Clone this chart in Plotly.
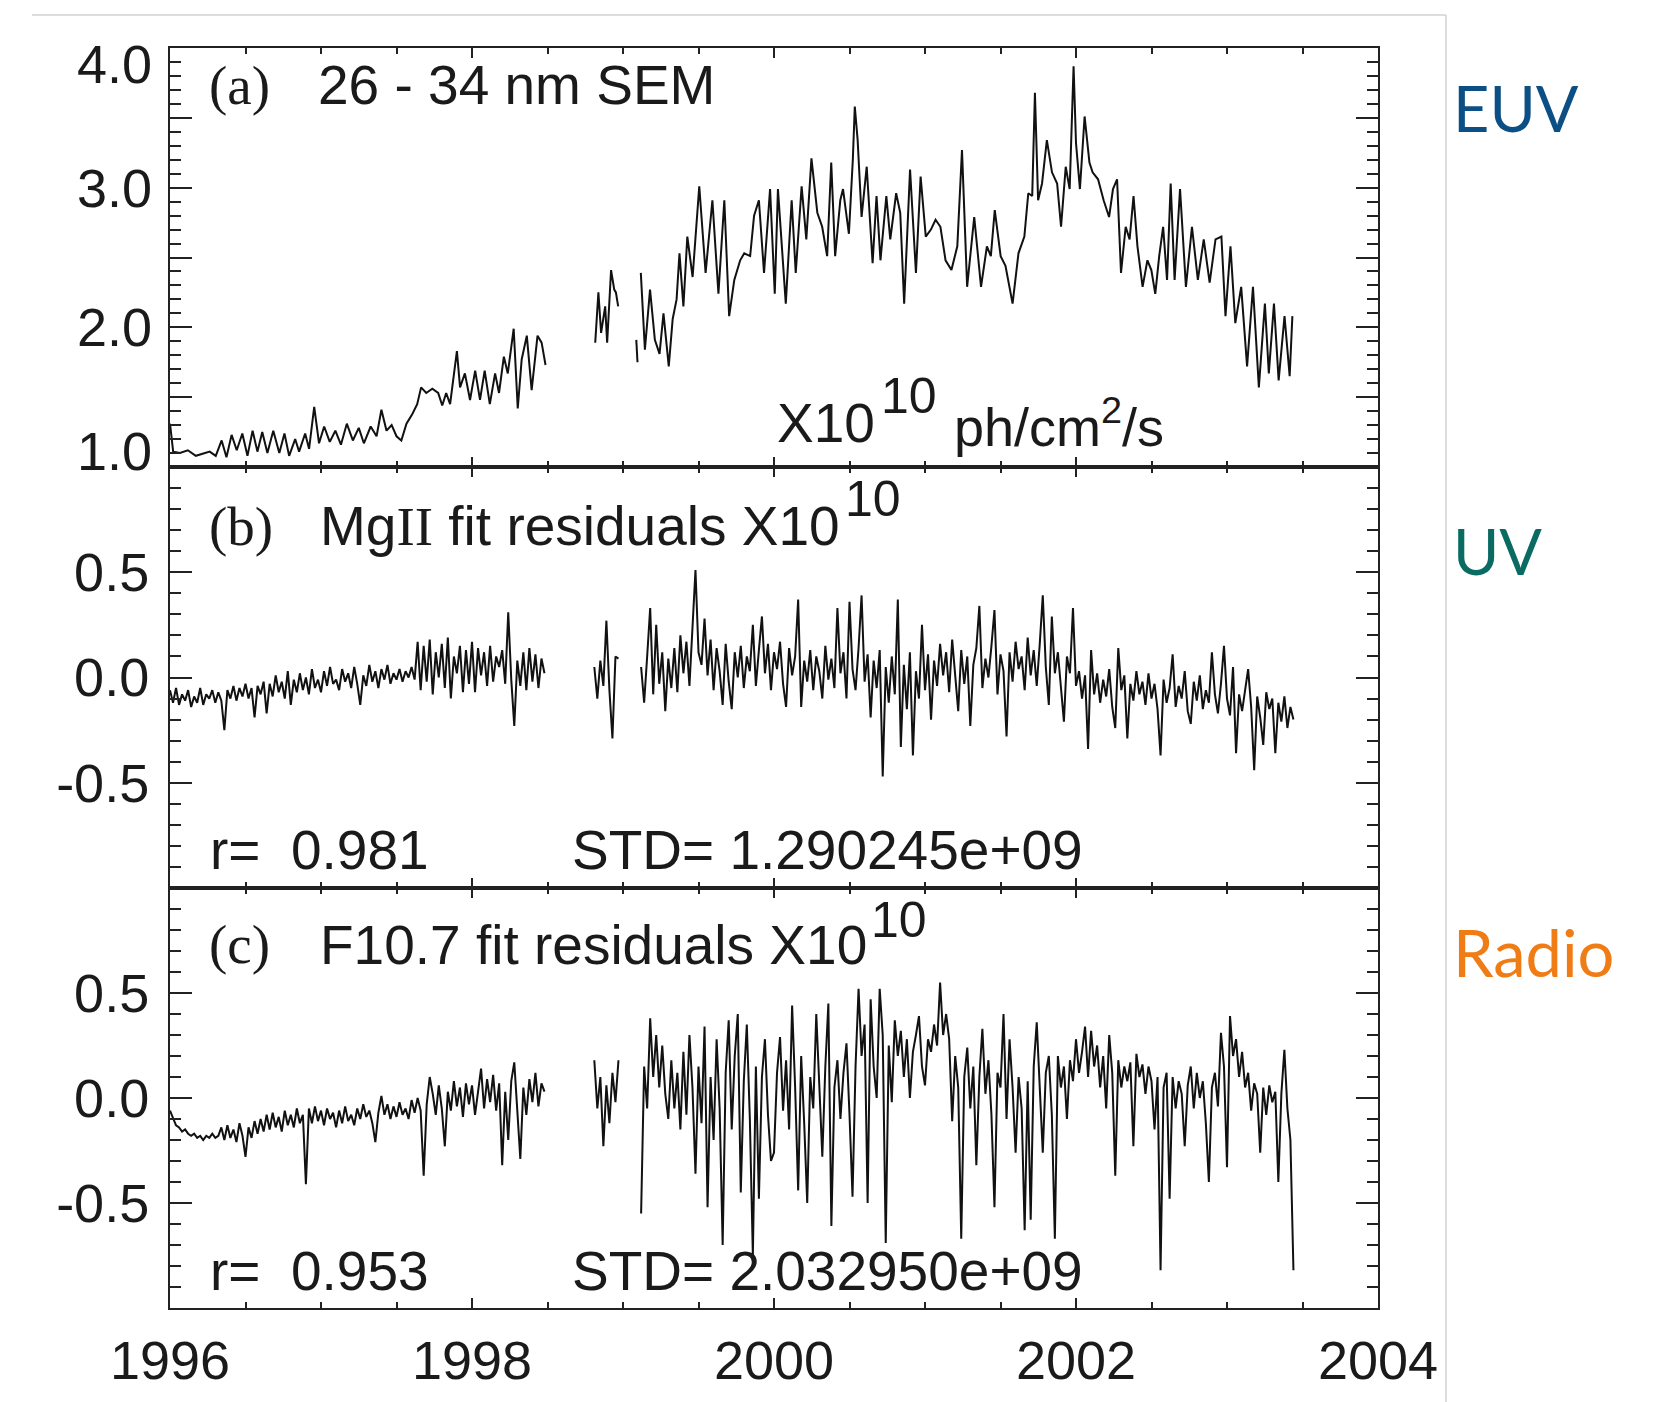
import numpy as np
import plotly.graph_objects as go

W, H = 1665, 1402

# ---------------- data ----------------
# Panel (a): 26-34 nm SEM flux (x1e10 ph/cm^2/s)
a1_year = [1996.000, 1996.021, 1996.066, 1996.118, 1996.171, 1996.224, 1996.263, 1996.303, 1996.342, 1996.374,
           1996.408, 1996.442, 1996.479, 1996.513, 1996.547, 1996.579, 1996.611, 1996.645, 1996.684, 1996.724,
           1996.758, 1996.789, 1996.829, 1996.855, 1996.895, 1996.921, 1996.955, 1996.987,
           1997.021, 1997.058, 1997.095, 1997.132, 1997.171, 1997.211, 1997.250, 1997.284, 1997.329, 1997.368,
           1997.400, 1997.434, 1997.468, 1997.500, 1997.532, 1997.566, 1997.605, 1997.637, 1997.663, 1997.697,
           1997.737, 1997.776, 1997.803, 1997.829, 1997.855, 1997.900, 1997.921, 1997.953, 1997.987,
           1998.021, 1998.053, 1998.084, 1998.118, 1998.153, 1998.179, 1998.211, 1998.237, 1998.276, 1998.303,
           1998.329, 1998.363, 1998.395, 1998.434, 1998.461, 1998.487]
a1_val = [1.31, 1.11, 1.10, 1.12, 1.08, 1.10, 1.11, 1.08, 1.19, 1.07,
          1.23, 1.12, 1.24, 1.08, 1.26, 1.11, 1.25, 1.10, 1.26, 1.10,
          1.24, 1.08, 1.20, 1.11, 1.24, 1.13, 1.43, 1.17,
          1.29, 1.18, 1.26, 1.16, 1.31, 1.19, 1.28, 1.17, 1.29, 1.22,
          1.41, 1.26, 1.30, 1.22, 1.19, 1.31, 1.38, 1.45, 1.57, 1.53,
          1.56, 1.53, 1.44, 1.53, 1.45, 1.83, 1.57, 1.67, 1.48,
          1.69, 1.48, 1.69, 1.45, 1.67, 1.53, 1.79, 1.67, 1.99, 1.42,
          1.77, 1.94, 1.55, 1.94, 1.89, 1.73]
a2_year = [1998.816, 1998.837, 1998.855, 1998.882, 1998.895, 1998.921, 1998.942, 1998.953, 1998.968]
a2_val = [1.89, 2.25, 1.96, 2.15, 1.89, 2.41, 2.27, 2.25, 2.15]
a3_year = [1999.088, 1999.096]
a3_val = [1.91, 1.75]
a4_year = [1999.118, 1999.145, 1999.179, 1999.211, 1999.242, 1999.268, 1999.303, 1999.329, 1999.355, 1999.374,
           1999.400, 1999.426, 1999.461, 1999.505, 1999.547, 1999.592, 1999.632, 1999.671, 1999.703, 1999.737,
           1999.776, 1999.803, 1999.842, 1999.868, 1999.900, 1999.934, 1999.974, 2000.005,
           2000.026, 2000.078, 2000.117, 2000.144, 2000.183, 2000.214, 2000.248, 2000.287, 2000.319, 2000.352,
           2000.379, 2000.405, 2000.439, 2000.457, 2000.496, 2000.522, 2000.535, 2000.554, 2000.580, 2000.614,
           2000.653, 2000.679, 2000.705, 2000.744, 2000.770, 2000.809, 2000.836, 2000.862, 2000.901, 2000.940,
           2000.971, 2001.005, 2001.039, 2001.070, 2001.102, 2001.136, 2001.175, 2001.214, 2001.245, 2001.279,
           2001.326, 2001.371, 2001.410, 2001.436, 2001.462, 2001.501, 2001.533, 2001.580, 2001.619, 2001.658,
           2001.684, 2001.710, 2001.728, 2001.749, 2001.775, 2001.807, 2001.841, 2001.875, 2001.901, 2001.932,
           2001.958, 2001.984, 2002.000, 2002.026, 2002.057, 2002.089, 2002.110, 2002.146, 2002.183, 2002.219,
           2002.245, 2002.272, 2002.298, 2002.329, 2002.355, 2002.381, 2002.407, 2002.441, 2002.473, 2002.499,
           2002.525, 2002.551, 2002.577, 2002.603, 2002.627, 2002.653, 2002.689, 2002.728, 2002.768, 2002.807,
           2002.846, 2002.885, 2002.924, 2002.963, 2002.990, 2003.023, 2003.055, 2003.094, 2003.133, 2003.172,
           2003.211, 2003.251, 2003.277, 2003.311, 2003.342, 2003.381, 2003.415, 2003.433]
a4_val = [2.39, 1.84, 2.27, 1.91, 1.81, 2.10, 1.72, 2.06, 2.20, 2.53,
          2.15, 2.65, 2.36, 3.01, 2.39, 2.91, 2.24, 2.91, 2.08, 2.34,
          2.48, 2.53, 2.51, 2.80, 2.91, 2.39, 2.99, 2.24,
          2.99, 2.17, 2.91, 2.39, 3.01, 2.63, 3.21, 2.82, 2.72, 2.51,
          3.18, 2.51, 2.91, 2.99, 2.67, 3.20, 3.58, 3.34, 2.79, 3.15,
          2.46, 2.94, 2.48, 2.94, 2.63, 2.96, 2.82, 2.17, 3.13, 2.39,
          3.08, 2.65, 2.70, 2.77, 2.72, 2.48, 2.41, 2.58, 3.27, 2.29,
          2.79, 2.29, 2.58, 2.51, 2.84, 2.51, 2.44, 2.17, 2.53, 2.65,
          2.96, 2.94, 3.68, 2.91, 3.03, 3.34, 3.11, 3.03, 2.72, 3.15,
          2.99, 3.87, 3.32, 2.99, 3.51, 3.18, 3.11, 3.06, 2.91, 2.79,
          2.99, 3.06, 2.39, 2.72, 2.63, 2.94, 2.58, 2.29, 2.48, 2.41,
          2.24, 2.51, 2.72, 2.34, 3.03, 2.34, 2.99, 2.29, 2.72, 2.34,
          2.63, 2.32, 2.63, 2.65, 2.08, 2.58, 2.03, 2.29, 1.72, 2.29,
          1.57, 2.17, 1.67, 2.17, 1.62, 2.08, 1.65, 2.08]

# Panels (b) and (c): residuals, regularly sampled segments (start year, step in years)
STEP = 0.02
b1_start = 1996.00
b1_val = [-0.06, -0.12, -0.05, -0.13, -0.08, -0.11, -0.06, -0.14, -0.09, -0.12,
          -0.05, -0.13, -0.08, -0.10, -0.06, -0.12, -0.07, -0.11, -0.25, -0.06,
          -0.10, -0.04, -0.11, -0.05, -0.09, -0.03, -0.10, -0.05, -0.19, -0.04,
          -0.08, -0.02, -0.17, -0.03, -0.09, 0.01, -0.07, -0.02, -0.10, 0.03,
          -0.13, -0.01, -0.07, 0.02, -0.06, 0.00, -0.08, 0.04, -0.05, -0.01,
          -0.07, 0.03, -0.04, 0.05, -0.03, -0.01, -0.06, 0.04, -0.02, 0.02,
          -0.05, 0.05, -0.03, -0.13, 0.01, -0.04, 0.06, -0.02, 0.03, -0.05,
          0.04, -0.01, 0.06, -0.03, 0.02, -0.01, 0.04, -0.02, 0.03, 0.00,
          0.05, -0.01, 0.17, -0.06, 0.15, -0.02, 0.18, -0.08, 0.12, 0.00,
          0.16, -0.05, 0.19, -0.10, 0.10, 0.02, 0.15, -0.07, 0.13, -0.03,
          0.17, -0.07, 0.14, 0.01, 0.12, -0.04, 0.15, -0.02, 0.10, 0.05,
          0.13, -0.03, 0.31, -0.01, -0.23, 0.08, -0.04, 0.12, -0.06, 0.14,
          -0.02, 0.11, -0.05, 0.09, 0.02]
b2_start = 1998.81
b2_val = [0.05, -0.10, 0.08, -0.04, 0.27, -0.06, -0.29, 0.10, 0.09]
b3_start = 1999.12
b3_val = [0.05, -0.12, 0.10, 0.33, -0.08, 0.25, -0.03, 0.12, -0.16, 0.09,
          -0.05, 0.14, -0.07, 0.20, 0.02, 0.17, -0.04, 0.27, 0.51, 0.12,
          0.06, 0.28, 0.01, 0.18, -0.06, 0.14, 0.03, -0.13, 0.16, -0.02,
          -0.15, 0.12, 0.00, 0.15, -0.05, 0.10, 0.03, 0.25, -0.04, 0.13,
          0.29, 0.02, 0.16, -0.06, 0.12, 0.04, 0.17, -0.03, -0.14, 0.14,
          0.01, 0.10, 0.37, -0.14, 0.08, -0.02, 0.13, -0.06, 0.10, 0.03,
          -0.10, 0.15, -0.01, 0.09, -0.05, 0.33, 0.02, 0.12, -0.10, 0.36,
          0.04, -0.06, 0.14, 0.39, -0.02, 0.11, -0.19, 0.08, -0.05, 0.13,
          -0.47, 0.05, -0.12, 0.10, -0.08, 0.37, -0.33, 0.06, -0.15, 0.12,
          -0.37, 0.03, -0.10, 0.25, -0.06, 0.11, -0.20, 0.08, -0.04, 0.16,
          0.01, 0.12, -0.07, 0.18, 0.02, -0.16, 0.13, -0.03, 0.10, -0.23,
          0.06, 0.14, 0.34, -0.05, 0.09, 0.00, 0.15, 0.32, -0.08, 0.11,
          0.03, -0.28, 0.12, -0.02, 0.17, 0.04, 0.10, -0.06, 0.19, 0.01,
          0.13, -0.04, 0.16, 0.39, 0.05, -0.13, 0.29, 0.02, 0.12, -0.05,
          -0.21, 0.10, 0.02, 0.33, -0.04, 0.03, -0.10, 0.01, -0.34, 0.13,
          -0.08, 0.02, -0.12, -0.01, -0.09, 0.04, -0.14, -0.24, 0.14, -0.06,
          0.01, -0.29, -0.03, -0.11, 0.03, -0.08, -0.02, -0.13, 0.02, -0.10,
          -0.03, -0.15, -0.37, -0.01, -0.12, -0.05, 0.11, -0.14, -0.04, -0.10,
          0.03, -0.16, -0.22, -0.02, -0.11, 0.01, -0.15, -0.06, -0.12, 0.12,
          -0.08, -0.17, -0.03, 0.15, -0.10, -0.18, 0.05, -0.36, -0.08, -0.16,
          -0.06, 0.04, -0.14, -0.44, -0.09, -0.19, -0.32, -0.07, -0.15, -0.10,
          -0.36, -0.12, -0.21, -0.09, -0.24, -0.14, -0.20]

c1_start = 1996.00
c1_val = [-0.06, -0.10, -0.13, -0.14, -0.16, -0.15, -0.17, -0.18, -0.17, -0.19,
          -0.18, -0.20, -0.18, -0.19, -0.17, -0.19, -0.18, -0.14, -0.20, -0.13,
          -0.19, -0.15, -0.21, -0.12, -0.18, -0.28, -0.14, -0.19, -0.11, -0.17,
          -0.10, -0.16, -0.08, -0.15, -0.07, -0.14, -0.09, -0.16, -0.06, -0.13,
          -0.08, -0.14, -0.05, -0.12, -0.08, -0.41, -0.05, -0.12, -0.04, -0.11,
          -0.06, -0.13, -0.05, -0.10, -0.07, -0.14, -0.06, -0.12, -0.04, -0.11,
          -0.08, -0.13, -0.05, -0.10, -0.03, -0.09, -0.06, -0.12, -0.21, -0.07,
          0.01, -0.08, -0.03, -0.10, -0.04, -0.09, -0.02, -0.08, -0.05, -0.10,
          -0.01, -0.07, 0.00, -0.06, -0.37, -0.03, 0.10, 0.02, -0.08, 0.06,
          -0.05, -0.23, 0.03, -0.06, 0.08, -0.04, 0.05, -0.09, 0.07, -0.03,
          0.06, -0.08, 0.04, 0.14, -0.05, 0.09, -0.02, 0.11, -0.06, 0.07,
          -0.32, 0.03, -0.20, 0.08, 0.17, -0.05, -0.29, 0.05, -0.08, 0.09,
          -0.02, 0.12, -0.04, 0.07, 0.03]
c2_start = 1998.81
c2_val = [0.18, -0.05, 0.10, -0.23, 0.06, -0.12, 0.12, -0.02, 0.18]
c3_start = 1999.12
c3_val = [-0.55, 0.15, -0.05, 0.38, 0.10, 0.30, 0.05, 0.25, 0.02, -0.10,
          0.18, -0.05, 0.12, -0.15, 0.22, -0.08, 0.30, 0.05, -0.36, 0.15,
          -0.12, 0.34, -0.52, 0.10, -0.20, 0.28, -0.05, -0.70, 0.12, 0.37,
          -0.15, 0.20, 0.40, -0.45, 0.08, 0.35, -0.10, -0.75, 0.15, -0.48,
          0.10, 0.28, -0.08, -0.30, -0.26, 0.12, 0.29, -0.06, 0.18, -0.15,
          0.44, 0.05, -0.44, 0.20, -0.12, -0.50, 0.10, -0.05, 0.40, 0.08,
          -0.28, 0.15, 0.45, -0.61, 0.05, 0.18, -0.10, 0.12, 0.26, -0.08,
          -0.47, 0.15, 0.52, 0.20, 0.35, -0.50, 0.47, 0.15, 0.00, 0.52,
          0.30, -0.69, 0.25, -0.02, 0.37, 0.20, 0.32, 0.10, 0.28, 0.00,
          0.22, 0.30, 0.39, 0.15, 0.06, 0.28, 0.22, 0.35, 0.25, 0.55,
          0.30, 0.40, 0.28, -0.11, 0.20, 0.05, -0.67, 0.10, 0.24, -0.05,
          0.15, -0.32, 0.10, 0.33, 0.02, 0.18, -0.08, -0.52, 0.12, 0.05,
          0.40, -0.10, 0.28, 0.05, -0.26, 0.10, -0.05, -0.63, 0.08, -0.58,
          0.15, 0.36, 0.02, -0.26, 0.12, 0.20, -0.08, -0.67, 0.20, 0.05,
          0.15, -0.10, 0.18, 0.08, 0.28, 0.12, 0.22, 0.34, 0.10, 0.32,
          0.15, 0.25, 0.05, 0.20, -0.05, 0.30, 0.12, -0.37, 0.18, 0.05,
          0.15, 0.08, 0.17, -0.23, 0.21, 0.10, 0.16, 0.02, 0.15, 0.08,
          -0.15, 0.10, -0.82, 0.05, 0.12, -0.48, 0.10, -0.05, 0.08, 0.02,
          -0.23, 0.06, 0.15, -0.05, 0.12, 0.00, 0.08, -0.12, -0.40, 0.05,
          0.12, -0.04, 0.31, 0.15, -0.33, 0.39, 0.20, 0.28, 0.10, 0.22,
          0.05, 0.12, -0.06, 0.07, 0.02, -0.26, 0.05, -0.08, 0.06, -0.02,
          0.03, -0.40, 0.02, 0.23, -0.05, -0.20, -0.82]

x_tickvals = [1996, 1998, 2000, 2002, 2004]
x_ticktext = ["1996", "1998", "2000", "2002", "2004"]
ya_tickvals = [1.0, 1.5, 2.0, 2.5, 3.0, 3.5, 4.0]
ya_labels = [1.0, 2.0, 3.0, 4.0]
yr_tickvals = [-0.5, 0.0, 0.5]
yr_ticktext = ["-0.5", "0.0", "0.5"]


def reg_x(start, vals):
    return start + STEP * np.arange(len(vals))


# ---------------- figure ----------------
def px_x(p):
    return p / W


def px_y(p):
    return 1 - p / H


XL, XR = 170, 1378
A_T, AB, BC, C_B = 48, 467, 888, 1308
LINE = dict(color="#111111", width=2.0)

fig = go.Figure()

for xs, ys in [(a1_year, a1_val), (a2_year, a2_val), (a3_year, a3_val), (a4_year, a4_val)]:
    fig.add_trace(go.Scatter(x=xs, y=ys, mode="lines", line=LINE, xaxis="x", yaxis="y",
                             showlegend=False, hoverinfo="skip"))
for st, vals in [(b1_start, b1_val), (b2_start, b2_val), (b3_start, b3_val)]:
    fig.add_trace(go.Scatter(x=reg_x(st, vals), y=vals, mode="lines", line=LINE, xaxis="x2", yaxis="y2",
                             showlegend=False, hoverinfo="skip"))
for st, vals in [(c1_start, c1_val), (c2_start, c2_val), (c3_start, c3_val)]:
    fig.add_trace(go.Scatter(x=reg_x(st, vals), y=vals, mode="lines", line=LINE, xaxis="x3", yaxis="y3",
                             showlegend=False, hoverinfo="skip"))

TICKFONT = dict(family="Liberation Sans, Arial, sans-serif", size=54, color="#1a1a1a")


def xaxis(anchor, show):
    return dict(range=[1996, 2004], domain=[px_x(XL), px_x(XR)], anchor=anchor, automargin=False,
                tickvals=x_tickvals, ticktext=x_ticktext, showticklabels=show,
                ticks="inside", ticklen=10, tickwidth=2, tickcolor="#222",
                showline=True, linecolor="#222", linewidth=2, mirror="ticks",
                showgrid=False, zeroline=False, tickfont=TICKFONT, ticklabelstandoff=4,
                minor=dict(tick0=1996, dtick=0.5, ticks="inside", ticklen=6, tickwidth=2,
                           tickcolor="#222", showgrid=False))


def yaxis(anchor, rng, dom, tv, tt, show=True):
    d = dict(range=rng, domain=dom, anchor=anchor, automargin=False, tickvals=tv,
             showticklabels=show,
             ticks="inside", ticklen=22, tickwidth=2, tickcolor="#222",
             showline=True, linecolor="#222", linewidth=2, mirror="ticks",
             showgrid=False, zeroline=False, tickfont=TICKFONT, ticklabelstandoff=8,
             minor=dict(dtick=0.1, ticks="inside", ticklen=11, tickwidth=2,
                        tickcolor="#222", showgrid=False))
    if tt is not None:
        d["ticktext"] = tt
    return d


fig.update_layout(
    width=W, height=H, margin=dict(l=0, r=0, t=0, b=0, autoexpand=False),
    paper_bgcolor="white", plot_bgcolor="white",
    xaxis=xaxis("y", False),
    xaxis2=xaxis("y2", False),
    xaxis3=xaxis("y3", True),
    yaxis=yaxis("x", [1.0, 4.0], [px_y(AB), px_y(A_T)], ya_tickvals, None, show=False),
    yaxis2=yaxis("x2", [-1.0, 1.0], [px_y(BC), px_y(AB)], yr_tickvals, yr_ticktext),
    yaxis3=yaxis("x3", [-1.0, 1.0], [px_y(C_B), px_y(BC)], yr_tickvals, yr_ticktext),
)

SANS = "Liberation Sans, Arial, sans-serif"
SERIF = "Liberation Serif, Times New Roman, serif"
INK = "#1a1a1a"


def note(text, x, y, size=55, family=SANS, color=INK, anchor="left"):
    fig.add_annotation(text=text, x=px_x(x), y=px_y(y), xref="paper", yref="paper",
                       xanchor=anchor, yanchor="middle", showarrow=False,
                       font=dict(family=family, size=size, color=color))


# y labels of panel (a): end labels sit inside the frame edges
for v in ya_labels:
    shift = -16 if v == 4.0 else (16 if v == 1.0 else 0)
    fig.add_annotation(text=f"{v:.1f}", x=px_x(XL - 16), xref="paper", xanchor="right",
                       y=v, yref="y", yanchor="middle", yshift=shift, showarrow=False,
                       font=TICKFONT)

# panel (a)
note("(a)", 207, 85, size=55, family=SERIF)
note("26 - 34 nm SEM", 316, 85)
note("X10", 775, 423)
note("10", 879, 396, size=50)
note("ph/cm<sup>2</sup>/s", 952, 423, size=54)

# panel (b)
note("(b)", 207, 526, size=55, family=SERIF)
note("Mg<span style='font-family:Liberation Serif, serif'>II</span> fit residuals X10", 318, 526)
note("10", 843, 499, size=50)
note("r=\u00a0 0.981", 208, 850)
note("STD= 1.290245e+09", 570, 850)

# panel (c)
note("(c)", 207, 945, size=55, family=SERIF)
note("F10.7 fit residuals X10", 318, 945)
note("10", 869, 920, size=50)
note("r=\u00a0 0.953", 208, 1271)
note("STD= 2.032950e+09", 570, 1271)

# side labels
LAB = "Lato, Open Sans, sans-serif"
note("EUV", 1451, 108, size=63, family=LAB, color="#0c4f84")
note("UV", 1451, 550, size=63, family=LAB, color="#0a6b63")
note("Radio", 1451, 952, size=65, family=LAB, color="#f07c16")

# light frame of the original figure
fig.add_shape(type="line", xref="paper", yref="paper", x0=px_x(32), x1=px_x(1446), y0=px_y(15), y1=px_y(15),
              line=dict(color="#d2d2d2", width=1.5))
fig.add_shape(type="line", xref="paper", yref="paper", x0=px_x(1446), x1=px_x(1446), y0=px_y(15), y1=0,
              line=dict(color="#d2d2d2", width=1.5))

fig.write_html("out.html")
